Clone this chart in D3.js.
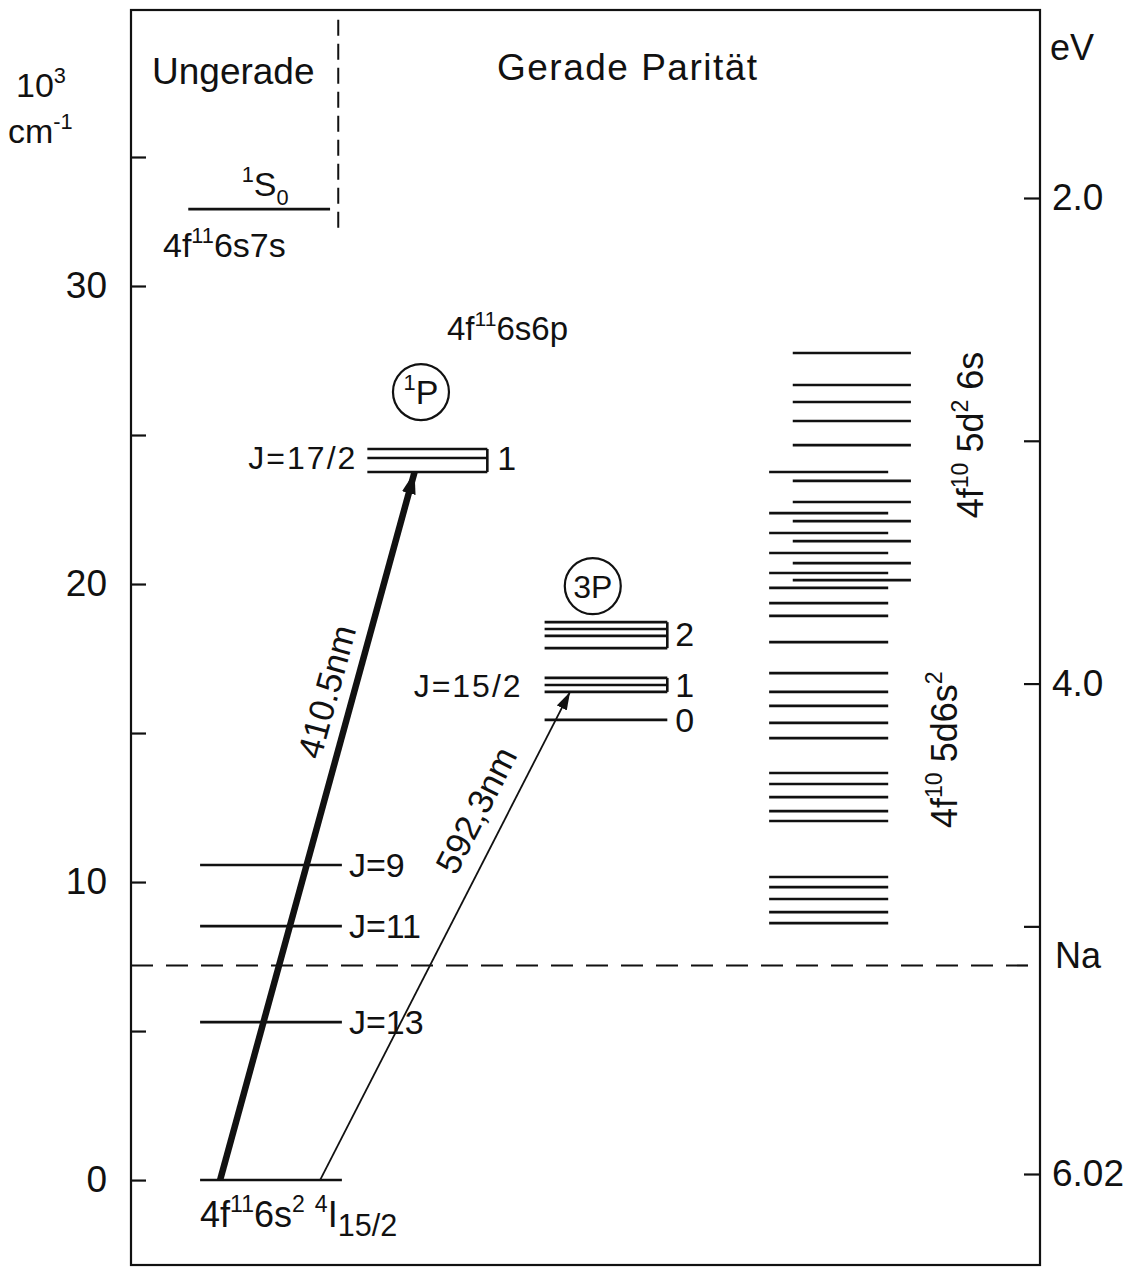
<!DOCTYPE html>
<html>
<head>
<meta charset="utf-8">
<script src="https://cdn.jsdelivr.net/npm/d3@7"></script>
<style>
    body { margin: 0; background: #fff; }
    svg text { font-family: "Liberation Sans", Arial, sans-serif; fill: #111; }
</style>
</head>
<body>
<svg id="chart"></svg>
<script>
/*--------------------------------------------------------------------------------
----- DATA (energies in 10^3 cm^-1, eV scale on the right)
--------------------------------------------------------------------------------*/
const cm_ticks = [0, 5, 10, 15, 20, 25, 30, 35];
const cm_labels = ["0", "", "10", "", "20", "", "30", ""];
const ev_ticks = [2.0, 3.0, 4.0, 5.0, 6.02];
const ev_labels = ["2.0", "", "4.0", "", "6.02"];

const na_level = 7.2;
const ground_level = 0;
const odd_level = 32.98;
const low_levels = [5.3, 8.52, 10.57];
const low_labels = ["J=13", "J=11", "J=9"];
const p1_levels = [24.53, 24.23, 23.76];
const p3_j2_levels = [18.72, 18.49, 18.26, 17.85];
const p3_j1_levels = [16.85, 16.61, 16.38];
const p3_j0_levels = [15.44];
const forest_left = [23.76, 22.38, 21.71, 21.04, 20.37, 19.87, 19.36, 18.93, 18.05, 17.01,
    16.38, 15.91, 15.34, 14.83, 13.66, 13.29, 12.85, 12.38, 12.05,
    10.17, 9.83, 9.43, 8.99, 8.62];
const forest_right = [27.75, 26.68, 26.11, 25.47, 24.66, 23.46, 22.75, 22.11, 21.44, 20.70, 20.13];

const transition_upper = [23.76, 16.38];
const transition_labels = ["410.5nm", "592,3nm"];

/*--------------------------------------------------------------------------------
----- LAYOUT
--------------------------------------------------------------------------------*/
const width = 1125, height = 1276;
const frame = { left: 131, right: 1040, top: 10, bottom: 1265 };

// horizontal columns of the diagram, in abstract units 0..100
const cols = {
    odd: [6.3, 21.9],
    low: [7.6, 23.2],
    p1: [26.0, 39.2],
    p3: [45.5, 59.0],
    fl: [70.2, 83.3],
    fr: [72.8, 85.8]
};
const transition_x = [[9.8, 31.2], [20.8, 48.3]];

const x = d3.scaleLinear().domain([0, 100]).range([frame.left, frame.right]);
// the printed axis is slightly compressed above 30
const y = d3.scaleLinear().domain([-2.85, 30, 35, 39.93]).range([frame.bottom, 286, 157, frame.top]);
const y_ev = d3.scaleLinear().domain([6.02, 2.0]).range([1174, 198]);

const svg = d3.select("#chart").attr("width", width).attr("height", height);

// Helper for texts with super/subscripts
function rich(sel, parts, size) {
    let shift = 0;
    parts.forEach(p => {
        let target = 0, fs = size;
        if (p.s === "sup") { target = -size * 0.42; fs = size * 0.64; }
        if (p.s === "sub") { target = size * 0.25; fs = size * (p.k || 0.64); }
        sel.append("tspan").attr("dy", target - shift).attr("font-size", fs).text(p.t);
        shift = target;
    });
    return sel;
}

// Arrow heads
const defs = svg.append("defs");
[["head-thick", 22, 14], ["head-thin", 18, 11]].forEach(([id, len, wid]) => {
    defs.append("marker")
        .attr("id", id)
        .attr("markerUnits", "userSpaceOnUse")
        .attr("viewBox", `0 0 ${len} ${wid}`)
        .attr("refX", len).attr("refY", wid / 2)
        .attr("markerWidth", len).attr("markerHeight", wid)
        .attr("orient", "auto")
        .append("path")
        .attr("d", `M0,0 L${len},${wid / 2} L0,${wid} Z`)
        .attr("fill", "#111");
});

// Frame
svg.append("rect")
    .attr("x", frame.left).attr("y", frame.top)
    .attr("width", frame.right - frame.left).attr("height", frame.bottom - frame.top)
    .attr("fill", "none").attr("stroke", "#111").attr("stroke-width", 2.2);

// Left axis (10^3 cm^-1)
const left_axis = svg.append("g")
    .attr("transform", `translate(${frame.left},0)`)
    .call(d3.axisLeft(y).tickValues(cm_ticks).tickSize(-15).tickPadding(24)
        .tickFormat((d, i) => cm_labels[i]));
left_axis.select(".domain").remove();
left_axis.selectAll("line").attr("stroke", "#111").attr("stroke-width", 2.2);
left_axis.selectAll("text").attr("font-size", 37).attr("font-family", null).attr("fill", "#111");

// Right axis (eV)
const right_axis = svg.append("g")
    .attr("transform", `translate(${frame.right},0)`)
    .call(d3.axisRight(y_ev).tickValues(ev_ticks).tickSize(-16).tickPadding(12)
        .tickFormat((d, i) => ev_labels[i]));
right_axis.select(".domain").remove();
right_axis.selectAll("line").attr("stroke", "#111").attr("stroke-width", 2.2);
right_axis.selectAll("text").attr("font-size", 37).attr("font-family", null).attr("fill", "#111");

// Axis headers
rich(svg.append("text").attr("x", 16).attr("y", 97), [{ t: "10" }, { t: "3", s: "sup" }], 34);
rich(svg.append("text").attr("x", 8).attr("y", 143), [{ t: "cm" }, { t: "-1", s: "sup" }], 34);
svg.append("text").attr("x", 1050).attr("y", 60).attr("font-size", 36).text("eV");

// Parity headers and separator
svg.append("text").attr("x", 152).attr("y", 84).attr("font-size", 37).text("Ungerade");
svg.append("text").attr("x", 497).attr("y", 80).attr("font-size", 37)
    .attr("letter-spacing", 1.5).text("Gerade Parität");
svg.append("line")
    .attr("x1", x(22.8)).attr("x2", x(22.8))
    .attr("y1", y(39.6)).attr("y2", y(32.25))
    .attr("stroke", "#111").attr("stroke-width", 2).attr("stroke-dasharray", "16,8");

// Na ionisation limit
svg.append("line")
    .attr("x1", frame.left).attr("x2", frame.right)
    .attr("y1", y(na_level)).attr("y2", y(na_level))
    .attr("stroke", "#111").attr("stroke-width", 2.2).attr("stroke-dasharray", "22,13");
svg.append("text").attr("x", 1055).attr("y", y(na_level) - 10).attr("dy", "0.35em")
    .attr("font-size", 36).text("Na");

// Generic level drawing
function draw_levels(values, col, cls) {
    svg.selectAll(`line.${cls}`)
        .data(values)
        .enter()
        .append("line")
        .attr("class", cls)
        .attr("x1", x(cols[col][0])).attr("x2", x(cols[col][1]))
        .attr("y1", d => y(d)).attr("y2", d => y(d))
        .attr("stroke", "#111").attr("stroke-width", 2.6);
}
function draw_bracket(values, col) {
    svg.append("line")
        .attr("x1", x(cols[col][1])).attr("x2", x(cols[col][1]))
        .attr("y1", y(d3.max(values))).attr("y2", y(d3.min(values)))
        .attr("stroke", "#111").attr("stroke-width", 2.6);
}

// Odd parity 1S0 level
draw_levels([odd_level], "odd", "odd");
rich(svg.append("text").attr("x", x(d3.mean(cols.odd)) + 6).attr("y", y(odd_level) - 13)
    .attr("text-anchor", "middle"),
    [{ t: "1", s: "sup" }, { t: "S" }, { t: "0", s: "sub" }], 34);
rich(svg.append("text").attr("x", 163).attr("y", y(odd_level) + 48),
    [{ t: "4f" }, { t: "11", s: "sup" }, { t: "6s7s" }], 34);

// Ground state and low J levels
draw_levels([ground_level], "low", "ground");
draw_levels(low_levels, "low", "low");
svg.selectAll("text.jlab")
    .data(low_levels)
    .enter()
    .append("text")
    .attr("class", "jlab")
    .attr("x", x(cols.low[1]) + 7)
    .attr("y", d => y(d))
    .attr("dy", "0.36em")
    .attr("font-size", 34)
    .text((d, i) => low_labels[i]);
rich(svg.append("text").attr("x", 200).attr("y", y(ground_level) + 47),
    [{ t: "4f" }, { t: "11", s: "sup" }, { t: "6s" }, { t: "2", s: "sup" }, { t: " " },
     { t: "4", s: "sup" }, { t: "I" }, { t: "15/2", s: "sub", k: 0.85 }], 36);

// 4f11 6s6p configuration
rich(svg.append("text").attr("x", 447).attr("y", 340),
    [{ t: "4f" }, { t: "11", s: "sup" }, { t: "6s6p" }], 33);

// 1P group
draw_levels(p1_levels, "p1", "p1");
draw_bracket(p1_levels, "p1");
svg.append("circle").attr("cx", x(31.9)).attr("cy", y(26.44)).attr("r", 28)
    .attr("fill", "none").attr("stroke", "#111").attr("stroke-width", 2.2);
rich(svg.append("text").attr("x", x(31.9)).attr("y", y(26.44) + 12)
    .attr("text-anchor", "middle"), [{ t: "1", s: "sup" }, { t: "P" }], 34);
svg.append("text").attr("x", x(cols.p1[0]) - 10).attr("y", y(p1_levels[1])).attr("dy", "0.36em")
    .attr("text-anchor", "end").attr("font-size", 32).attr("letter-spacing", 2).text("J=17/2");
svg.append("text").attr("x", x(cols.p1[1]) + 10).attr("y", y(p1_levels[1])).attr("dy", "0.36em")
    .attr("font-size", 34).text("1");

// 3P group
draw_levels(p3_j2_levels, "p3", "p3a");
draw_levels(p3_j1_levels, "p3", "p3b");
draw_levels(p3_j0_levels, "p3", "p3c");
draw_bracket(p3_j2_levels, "p3");
draw_bracket(p3_j1_levels, "p3");
svg.append("circle").attr("cx", x(50.8)).attr("cy", y(19.93)).attr("r", 28)
    .attr("fill", "none").attr("stroke", "#111").attr("stroke-width", 2.2);
svg.append("text").attr("x", x(50.8)).attr("y", y(19.93)).attr("dy", "0.36em")
    .attr("text-anchor", "middle").attr("font-size", 32).text("3P");
svg.append("text").attr("x", x(cols.p3[0]) - 22).attr("y", y(p3_j1_levels[1])).attr("dy", "0.36em")
    .attr("text-anchor", "end").attr("font-size", 32).attr("letter-spacing", 2).text("J=15/2");
[[p3_j2_levels, "2"], [p3_j1_levels, "1"], [p3_j0_levels, "0"]].forEach(([lv, lab]) => {
    svg.append("text").attr("x", x(cols.p3[1]) + 8).attr("y", y(d3.mean(lv))).attr("dy", "0.36em")
        .attr("font-size", 34).text(lab);
});

// 4f10 5d ... levels
draw_levels(forest_left, "fl", "fl");
draw_levels(forest_right, "fr", "fr");
rich(svg.append("text").attr("transform", `translate(983,${y(25.0)}) rotate(-90)`)
    .attr("text-anchor", "middle"),
    [{ t: "4f" }, { t: "10", s: "sup" }, { t: " 5d" }, { t: "2", s: "sup" }, { t: " 6s" }], 36);
rich(svg.append("text").attr("transform", `translate(957,${y(14.44)}) rotate(-90)`)
    .attr("text-anchor", "middle"),
    [{ t: "4f" }, { t: "10", s: "sup" }, { t: " 5d6s" }, { t: "2", s: "sup" }], 36);

// Transitions
const trans = transition_upper.map((e, i) => ({
    x1: x(transition_x[i][0]), y1: y(ground_level),
    x2: x(transition_x[i][1]), y2: y(e),
    label: transition_labels[i]
}));
svg.selectAll("line.trans")
    .data(trans)
    .enter()
    .append("line")
    .attr("class", "trans")
    .attr("x1", d => d.x1).attr("y1", d => d.y1)
    .attr("x2", d => d.x2).attr("y2", d => d.y2)
    .attr("stroke", "#111")
    .attr("stroke-width", (d, i) => i === 0 ? 6.5 : 1.8)
    .attr("marker-end", (d, i) => i === 0 ? "url(#head-thick)" : "url(#head-thin)");

const label_pos = [[0.68, 27], [0.73, 30]];
svg.selectAll("text.trans")
    .data(trans)
    .enter()
    .append("text")
    .attr("class", "trans")
    .attr("transform", (d, i) => {
        const dx = d.x2 - d.x1, dy = d.y2 - d.y1, len = Math.hypot(dx, dy);
        const [t, off] = label_pos[i];
        const px = d.x1 + t * dx + dy / len * off;
        const py = d.y1 + t * dy - dx / len * off;
        return `translate(${px},${py}) rotate(${Math.atan2(dy, dx) * 180 / Math.PI})`;
    })
    .attr("text-anchor", "middle")
    .attr("dy", "0.36em")
    .attr("font-size", 35)
    .text(d => d.label);
</script>
</body>
</html>
